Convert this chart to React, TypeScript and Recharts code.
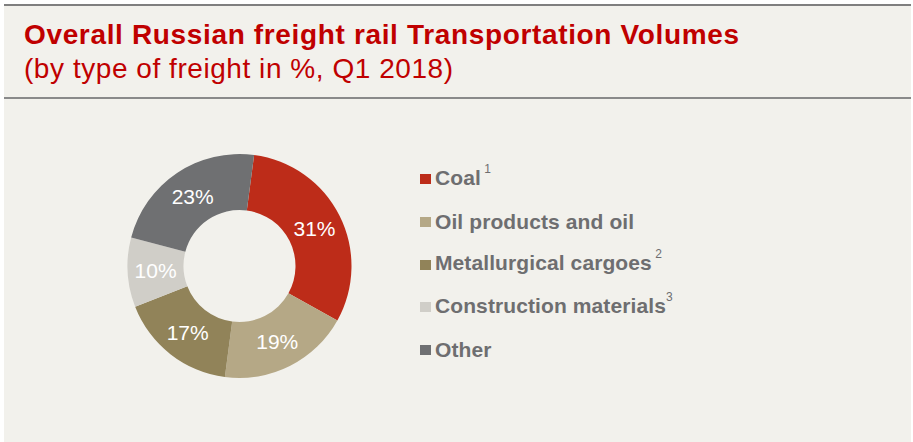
import React from 'react';
import { PieChart, Pie, Cell, Legend } from 'recharts';

const categories = ['Coal', 'Oil products and oil', 'Metallurgical cargoes', 'Construction materials', 'Other'];
const shares = [31, 19, 17, 10, 23];
const footnotes = [' 1', '', ' 2', '3', ''];
const colors = ['#BD2C19', '#B5A886', '#918359', '#D0CEC8', '#6F7072'];

const titleText = 'Overall Russian freight rail Transportation Volumes';
const subtitleText = '(by type of freight in %, Q1 2018)';

const data = categories.map((name, i) => ({ name, value: shares[i], note: footnotes[i], color: colors[i] }));

const FONT = '"Liberation Sans", Arial, Helvetica, sans-serif';
const BG = '#F2F1EC';
const RADIAN = Math.PI / 180;

const renderLabel = (props: any) => {
  const { cx, cy, midAngle, innerRadius, outerRadius, value } = props;
  const r = (innerRadius + outerRadius) / 2;
  const x = cx + r * Math.cos(-midAngle * RADIAN);
  const y = cy + r * Math.sin(-midAngle * RADIAN);
  return (
    <text x={x} y={y} fill="#FFFFFF" textAnchor="middle" dominantBaseline="central"
      style={{ fontFamily: FONT, fontSize: 21 }}>
      {`${value}%`}
    </text>
  );
};

const renderLegend = () => (
  <div style={{ fontFamily: FONT }}>
    {data.map((d) => (
      <div key={d.name} style={{ display: 'flex', alignItems: 'center', height: 20, marginBottom: 22.75 }}>
        <div style={{ width: 11, height: 10, background: d.color, marginRight: 4, flex: 'none' }} />
        <span style={{ fontSize: 21, lineHeight: '20px', fontWeight: 'bold', color: '#6E6E70', whiteSpace: 'pre', letterSpacing: 0.1 }}>
          {d.name}
          {d.note ? (
            <span style={{ fontSize: 12, fontWeight: 'normal', position: 'relative', top: -12, letterSpacing: 0 }}>{d.note}</span>
          ) : null}
        </span>
      </div>
    ))}
  </div>
);

export default function App() {
  return (
    <div style={{ position: 'absolute', left: 0, top: 0, width: 913, height: 442, background: '#FFFFFF', overflow: 'hidden' }}>
      <div style={{ position: 'absolute', left: 4, top: 4, width: 907, height: 438, background: BG, borderTop: '2px solid #7F7F7F', boxSizing: 'border-box' }} />
      <div style={{ position: 'absolute', left: 4, top: 97, width: 907, height: 0, borderTop: '2px solid #8A8A8A' }} />
      <div style={{ position: 'absolute', left: 24, top: 21, fontFamily: FONT, fontSize: 28, lineHeight: '27px', fontWeight: 'bold', color: '#C00000', whiteSpace: 'nowrap', letterSpacing: 0.65 }}>
        {titleText}
      </div>
      <div style={{ position: 'absolute', left: 24, top: 55, fontFamily: FONT, fontSize: 28, lineHeight: '27px', color: '#C00000', whiteSpace: 'nowrap', letterSpacing: 0.55 }}>
        {subtitleText}
      </div>
      <div style={{ position: 'absolute', left: 0, top: 0 }}>
        <PieChart width={913} height={442} margin={{ top: 0, right: 0, bottom: 0, left: 0 }}>
          <Pie
            data={data}
            dataKey="value"
            nameKey="name"
            cx={239.5}
            cy={266}
            innerRadius={56}
            outerRadius={112}
            startAngle={82.5}
            endAngle={-277.5}
            stroke="none"
            label={renderLabel}
            labelLine={false}
            isAnimationActive={false}
          >
            {data.map((d) => (
              <Cell key={d.name} fill={d.color} />
            ))}
          </Pie>
          <Legend
            content={renderLegend}
            wrapperStyle={{ position: 'absolute', left: 420, top: 169, width: 440 }}
          />
        </PieChart>
      </div>
    </div>
  );
}
